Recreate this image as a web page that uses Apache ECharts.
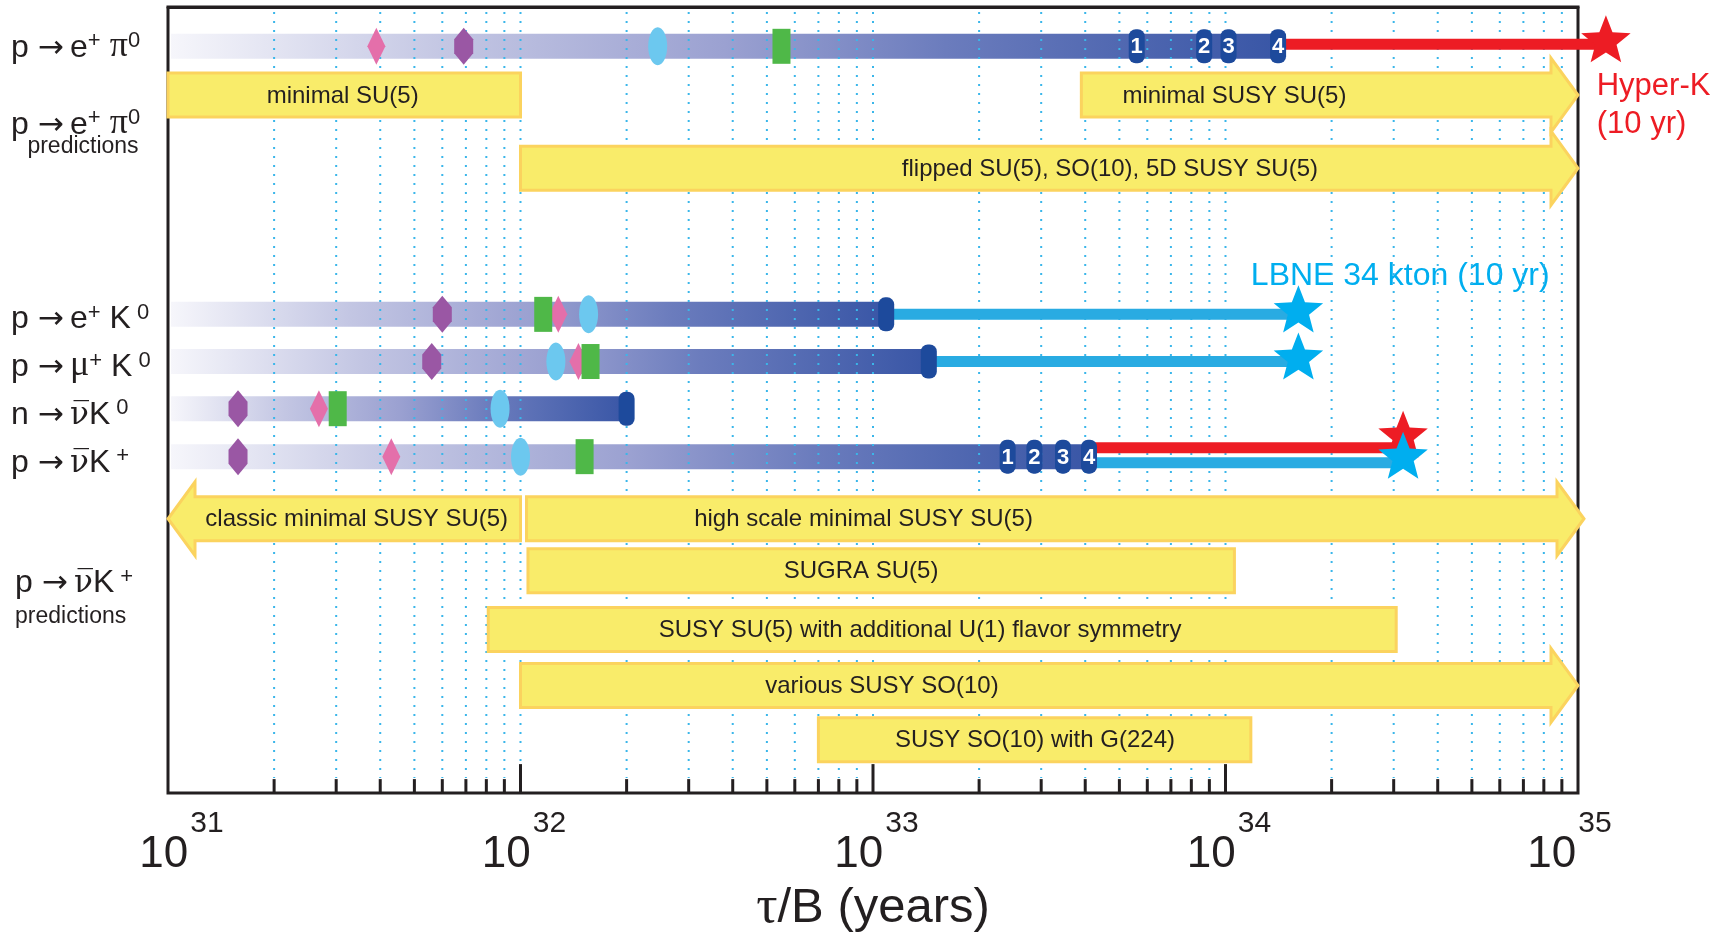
<!DOCTYPE html>
<html>
<head>
<meta charset="utf-8">
<title>Nucleon decay lifetime limits and sensitivities</title>
<script src="https://cdn.jsdelivr.net/npm/echarts@6/dist/echarts.min.js"></script>
<style>
  html, body { margin: 0; padding: 0; background: #ffffff; }
  #chart { width: 1735px; height: 940px; }
</style>
</head>
<body>
<div id="chart"></div>
<script>
// ---------------------------------------------------------------
// Data: lifetimes in years (tau/B), rows on a 0..100 vertical scale
// ---------------------------------------------------------------
const xMin = 1e31;
const xMax = 1e35;

// Decay channels (row positions) and current-limit bars
const channelRow = [5.0, 39.1, 45.1, 51.1, 57.2];   // p->e+pi0, p->e+K0, p->mu+K0, n->nubarK0, p->nubarK+
const barFrom    = [1.02e31, 1.02e31, 1.02e31, 1.02e31, 1.02e31];
const barTo      = [1.41e34, 1.09e33, 1.44e33, 2.0e32, 4.1e33];

// Experiment markers: [channel index, lifetime]
const purpleMarks = [[0, 6.9e31], [1, 6.0e31], [2, 5.6e31], [3, 1.58e31], [4, 1.58e31]];
const pinkMarks   = [[0, 3.9e31], [1, 1.28e32], [2, 1.46e32], [3, 2.68e31], [4, 4.3e31]];
const blueMarks   = [[0, 2.45e32], [1, 1.56e32], [2, 1.26e32], [3, 8.75e31], [4, 1.0e32]];
const greenMarks  = [[0, 5.5e32], [1, 1.16e32], [2, 1.58e32], [3, 3.03e31], [4, 1.52e32]];
const limitCaps   = [[1, 1.09e33], [2, 1.44e33], [3, 2.0e32]];
const numberedMarks = [
  [0, 5.6e33, '1'], [0, 8.7e33, '2'], [0, 1.02e34, '3'], [0, 1.41e34, '4'],
  [4, 2.41e33, '1'], [4, 2.87e33, '2'], [4, 3.46e33, '3'], [4, 4.1e33, '4']
];

// Ten-year sensitivity reach: [channel index, from, to]
const hyperKReach = [[0, 1.41e34, 1.2e35], [4, 4.1e33, 3.19e34]];
const lbneReach   = [[1, 1.09e33, 1.61e34], [2, 1.44e33, 1.61e34], [4, 4.1e33, 3.19e34]];

// Model prediction bands
const bandLabels = [
  'minimal SU(5)',
  'minimal SUSY SU(5)',
  'flipped SU(5), SO(10), 5D SUSY SU(5)',
  'classic minimal SUSY SU(5)',
  'high scale minimal SUSY SU(5)',
  'SUGRA SU(5)',
  'SUSY SU(5) with additional U(1) flavor symmetry',
  'various SUSY SO(10)',
  'SUSY SO(10) with G(224)'
];
const bandRow    = [11.2, 11.2, 20.5, 65.1, 65.1, 71.7, 79.2, 86.3, 93.2];
const bandFrom   = [1e31, 3.9e33, 1e32, 1e32, 1.04e32, 1.05e32, 8.1e31, 1e32, 7.0e32];
const bandTo     = [1e32, 1e35, 1e35, 1e31, 1.04e35, 1.06e34, 3.05e34, 1e35, 1.18e34];
const bandArrow  = ['none', 'right', 'right', 'left', 'right', 'none', 'none', 'right', 'none'];
const bandTextAt = [3.13e31, 1.06e34, 4.7e33, 3.43e31, 9.4e32, 9.25e32, 1.36e33, 1.06e33, 2.88e33];

// Row captions on the left
const rowLabelText = [
  '{m|p }{a|\u2192}{m|\u2009e}{s|+}{g| \u03c0}{s|0}',
  '{m|p }{a|\u2192}{m|\u2009e}{s|+}{g| \u03c0}{s|0}',
  'predictions',
  '{m|p }{a|\u2192}{m|\u2009e}{s|+}{m| K}{s| 0}',
  '{m|p }{a|\u2192}{m|\u2009}{g|\u03bc}{s|+}{m| K}{s| 0}',
  '{m|n }{a|\u2192}{m|\u2009}{n|\u03bd\u0305}{m|K}{s| 0}',
  '{m|p }{a|\u2192}{m|\u2009}{n|\u03bd\u0305}{m|K}{s| +}',
  '{m|p }{a|\u2192}{m|\u2009}{n|\u03bd\u0305}{m|K}{s| +}',
  'predictions'
];
const rowLabelRow = [5.0, 14.8, 17.8, 39.5, 45.6, 51.7, 57.8, 73.1, 77.5];

// Experiment annotations
const noteText  = ['Hyper-K', '(10 yr)', 'LBNE 34 kton (10 yr)'];
const noteAt    = [1.13e35, 1.13e35, 1.18e34];
const noteRow   = [10.1, 15.0, 34.2];

// Dotted grid at 2..10 x each decade, minor ticks at 2..9, long ticks at decades
const gridDecades = [1e31, 1e32, 1e33, 1e34];
const gridSteps   = [2, 3, 4, 5, 6, 7, 8, 9, 10];
const majorTickValues = [1e32, 1e33, 1e34];

// ---------------------------------------------------------------
// Styling
// ---------------------------------------------------------------
const SANS  = "'Liberation Sans', Arial, Helvetica, sans-serif";
const SERIF = "'Liberation Serif', 'Times New Roman', serif";
const INK = '#231f20';
const RED = '#ed1c24';
const CYAN_LINE = '#29abe2';
const CYAN_STAR = '#00aeef';
const DARK_BLUE = '#1d4a9c';
const YELLOW = '#f9ec6a';
const YELLOW_EDGE = '#fbd35e';

const gridLineValues = [];
const minorTickValues = [];
gridDecades.forEach(d => gridSteps.forEach(s => {
  if (d * s < xMax) gridLineValues.push(d * s);
  if (s < 10) minorTickValues.push(d * s);
}));

// horizontal anchor of each left caption (pixels)
const labelX = [11, 11, 83, 11, 11, 11, 11, 15, 15];
const labelAlign = ['left', 'left', 'center', 'left', 'left', 'left', 'left', 'left', 'left'];

const chart = echarts.init(document.getElementById('chart'));

function rowOf(ch) { return channelRow[ch]; }

function starPoints(cx, cy, R) {
  const pts = [];
  for (let k = 0; k < 10; k++) {
    const ang = -Math.PI / 2 + k * Math.PI / 5;
    const r = k % 2 === 0 ? R : R * 0.43;
    pts.push([cx + r * Math.cos(ang), cy + r * Math.sin(ang)]);
  }
  return pts;
}

function bandPoints(x0, x1, y, arrow) {
  const hb = 22, hh = 37, hl = 27;
  if (arrow === 'none') {
    const a = Math.min(x0, x1), b = Math.max(x0, x1);
    return [[a, y - hb], [b, y - hb], [b, y + hb], [a, y + hb]];
  }
  const dir = x1 > x0 ? 1 : -1;
  const base = x1 - dir * hl;
  return [[x0, y - hb], [base, y - hb], [base, y - hh], [x1, y],
          [base, y + hh], [base, y + hb], [x0, y + hb]];
}

function markerSeries(name, data, z, draw) {
  return {
    type: 'custom', name: name, z: z, silent: true,
    data: data, encode: { x: 0, y: 1 },
    renderItem: function (params, api) {
      const p = api.coord([api.value(0), api.value(1)]);
      return draw(p[0], p[1], params.dataIndex);
    }
  };
}

const barGradient = () => new echarts.graphic.LinearGradient(0, 0, 1, 0, [
  { offset: 0, color: '#f6f6fb' },
  { offset: 0.25, color: '#c3c6e3' },
  { offset: 0.5, color: '#9ba1d1' },
  { offset: 0.7, color: '#6b7cbd' },
  { offset: 1, color: '#3956a6' }
]);

const series = [];

// gradient limit bars
series.push({
  type: 'custom', name: 'limits', z: 2, silent: true,
  data: channelRow.map((r, i) => [barFrom[i], barTo[i], r]),
  encode: { x: [0, 1], y: 2 },
  renderItem: function (params, api) {
    const a = api.coord([api.value(0), api.value(2)]);
    const b = api.coord([api.value(1), api.value(2)]);
    return {
      type: 'rect',
      shape: { x: a[0], y: a[1] - 12.5, width: b[0] - a[0], height: 25 },
      style: { fill: barGradient() }
    };
  }
});

// annotation text (LBNE sits under the dotted grid)
series.push({
  type: 'custom', name: 'notes', z: 2, silent: true,
  data: noteAt.map((v, i) => [v, noteRow[i]]),
  encode: { x: 0, y: 1 },
  renderItem: function (params, api) {
    const i = params.dataIndex;
    const p = api.coord([api.value(0), api.value(1)]);
    return {
      type: 'text',
      style: {
        text: noteText[i], x: p[0], y: p[1], align: 'left', verticalAlign: 'middle',
        fill: i < 2 ? RED : CYAN_STAR, font: (i < 2 ? '31px ' : '32px ') + SANS
      }
    };
  }
});

// dotted grid lines
series.push({
  type: 'custom', name: 'grid', z: 3, silent: true,
  data: gridLineValues.map(v => [v, 0]),
  encode: { x: 0, y: 1 },
  renderItem: function (params, api) {
    const x = api.coord([api.value(0), 0])[0];
    const cs = params.coordSys;
    return {
      type: 'line',
      shape: { x1: x, y1: cs.y + 5, x2: x, y2: cs.y + cs.height - 15 },
      style: { stroke: '#3ab6ea', lineWidth: 2, lineDash: [2, 7] }
    };
  }
});

// axis ticks on the lifetime axis (short at 2..9, long at decades)
function tickSeries(name, values, len) {
  return {
    type: 'custom', name: name, z: 3, silent: true,
    data: values.map(v => [v, 0]),
    encode: { x: 0, y: 1 },
    renderItem: function (params, api) {
      const x = api.coord([api.value(0), 0])[0];
      const cs = params.coordSys;
      const yb = cs.y + cs.height;
      return {
        type: 'line',
        shape: { x1: x, y1: yb, x2: x, y2: yb - len },
        style: { stroke: INK, lineWidth: 3 }
      };
    }
  };
}
series.push(tickSeries('minorTicks', minorTickValues, 14));
series.push(tickSeries('majorTicks', majorTickValues, 29));

// prediction bands
series.push({
  type: 'custom', name: 'predictions', z: 4, silent: true,
  data: bandRow.map((r, i) => [bandFrom[i], bandTo[i], r, bandTextAt[i]]),
  encode: { x: [0, 1], y: 2 },
  renderItem: function (params, api) {
    const i = params.dataIndex;
    const a = api.coord([api.value(0), api.value(2)]);
    const b = api.coord([api.value(1), api.value(2)]);
    const t = api.coord([api.value(3), api.value(2)]);
    return {
      type: 'group',
      children: [
        {
          type: 'polygon',
          shape: { points: bandPoints(a[0], b[0], a[1], bandArrow[i]) },
          style: { fill: YELLOW, stroke: YELLOW_EDGE, lineWidth: 3, lineJoin: 'miter' }
        },
        {
          type: 'text',
          style: {
            text: bandLabels[i], x: t[0], y: a[1] + 1, align: 'center', verticalAlign: 'middle',
            fill: INK, font: '24px ' + SANS
          }
        }
      ]
    };
  }
});

// sensitivity reach lines
function reachSeries(name, list, color, offsetFor) {
  return {
    type: 'custom', name: name, z: 5, silent: true,
    data: list.map(d => [d[1], d[2], rowOf(d[0]), d[0]]),
    encode: { x: [0, 1], y: 2 },
    renderItem: function (params, api) {
      const a = api.coord([api.value(0), api.value(2)]);
      const b = api.coord([api.value(1), api.value(2)]);
      const dy = offsetFor(api.value(3));
      return {
        type: 'rect',
        shape: { x: a[0], y: a[1] + dy - 5.5, width: b[0] - a[0] - 6, height: 11 },
        style: { fill: color }
      };
    }
  };
}
series.push(reachSeries('Hyper-K line', hyperKReach, RED, ch => ch === 4 ? -9 : -2));
series.push(reachSeries('LBNE line', lbneReach, CYAN_LINE, ch => ch === 4 ? 6 : 0));

// experiment markers
series.push(markerSeries('purple', purpleMarks.map(d => [d[1], rowOf(d[0])]), 6, (x, y) => ({
  type: 'polygon',
  shape: { points: [[x, y - 18.5], [x + 9.5, y - 7], [x + 9.5, y + 7], [x, y + 18.5], [x - 9.5, y + 7], [x - 9.5, y - 7]] },
  style: { fill: '#9a57a4' }
})));
series.push(markerSeries('pink', pinkMarks.map(d => [d[1], rowOf(d[0])]), 6, (x, y) => ({
  type: 'polygon',
  shape: { points: [[x, y - 18.5], [x + 9, y], [x, y + 18.5], [x - 9, y]] },
  style: { fill: '#e46faa' }
})));
series.push(markerSeries('lightblue', blueMarks.map(d => [d[1], rowOf(d[0])]), 6, (x, y) => ({
  type: 'ellipse',
  shape: { cx: x, cy: y, rx: 9.5, ry: 19 },
  style: { fill: '#6cc8ef' }
})));
series.push(markerSeries('green', greenMarks.map(d => [d[1], rowOf(d[0])]), 6, (x, y) => ({
  type: 'rect',
  shape: { x: x - 9, y: y - 17.5, width: 18, height: 35 },
  style: { fill: '#4fb848' }
})));
series.push(markerSeries('caps', limitCaps.map(d => [d[1], rowOf(d[0])]), 6, (x, y) => ({
  type: 'rect',
  shape: { x: x - 8, y: y - 17, width: 16, height: 34, r: 7 },
  style: { fill: DARK_BLUE }
})));
series.push(markerSeries('numbered', numberedMarks.map(d => [d[1], rowOf(d[0])]), 6, (x, y, i) => ({
  type: 'group',
  children: [
    { type: 'rect', shape: { x: x - 8, y: y - 17, width: 16, height: 34, r: 7 }, style: { fill: DARK_BLUE } },
    {
      type: 'text',
      style: {
        text: numberedMarks[i][2], x: x, y: y + 1, align: 'center', verticalAlign: 'middle',
        fill: '#ffffff', font: "bold 22px 'Liberation Sans Narrow', " + SANS
      }
    }
  ]
})));

// sensitivity stars
series.push(markerSeries('Hyper-K star', hyperKReach.map(d => [d[2], rowOf(d[0]), d[0]]), 7, (x, y, i) => ({
  type: 'polygon',
  shape: { points: starPoints(x, y + (hyperKReach[i][0] === 4 ? -20 : -5), 26) },
  style: { fill: RED }
})));
series.push(markerSeries('LBNE star', lbneReach.map(d => [d[2], rowOf(d[0]), d[0]]), 8, (x, y, i) => ({
  type: 'polygon',
  shape: { points: starPoints(x, y + (lbneReach[i][0] === 4 ? 1 : -3), 26) },
  style: { fill: CYAN_STAR }
})));

// left captions
const labelRich = {
  m: { fontFamily: SANS, fontSize: 32, lineHeight: 36, color: INK, verticalAlign: 'bottom' },
  a: { fontFamily: "'DejaVu Sans', sans-serif", fontSize: 31, lineHeight: 34, color: INK, verticalAlign: 'bottom' },
  g: { fontFamily: SERIF, fontSize: 36, lineHeight: 36, color: INK, verticalAlign: 'bottom' },
  n: { fontFamily: "'DejaVu Serif', serif", fontSize: 31, lineHeight: 36, color: INK, verticalAlign: 'bottom' },
  s: { fontFamily: SANS, fontSize: 22, lineHeight: 22, padding: [0, 0, 12, 0], color: INK, verticalAlign: 'bottom' }
};
series.push({
  type: 'custom', name: 'captions', z: 6, silent: true,
  data: rowLabelRow.map(r => [xMin, r]),
  encode: { x: 0, y: 1 },
  renderItem: function (params, api) {
    const i = params.dataIndex;
    const p = api.coord([api.value(0), api.value(1)]);
    const plain = rowLabelText[i] === 'predictions';
    return {
      type: 'text',
      style: plain ? {
        text: rowLabelText[i], x: labelX[i], y: p[1], align: labelAlign[i], verticalAlign: 'middle',
        fill: INK, font: '23px ' + SANS
      } : {
        text: rowLabelText[i], x: labelX[i], y: p[1], align: labelAlign[i], verticalAlign: 'middle',
        rich: labelRich, fill: INK, font: '32px ' + SANS
      }
    };
  }
});

const tenStyle = { fontFamily: SANS, fontSize: 44, lineHeight: 44, color: INK, verticalAlign: 'bottom' };
const expStyle = { fontFamily: SANS, fontSize: 30, lineHeight: 30, color: INK, verticalAlign: 'bottom' };

const option = {
  animation: false,
  backgroundColor: '#ffffff',
  grid: {
    left: 168, right: 157, top: 7, bottom: 139,
    show: true, borderColor: INK, borderWidth: 3, backgroundColor: 'transparent'
  },
  xAxis: {
    type: 'log', logBase: 10, min: xMin, max: xMax,
    axisLine: { show: true, lineStyle: { color: INK, width: 3 } },
    axisTick: { show: false },
    splitLine: { show: false },
    minorTick: { show: false },
    axisLabel: {
      margin: 40,
      showMinLabel: true, showMaxLabel: true,
      formatter: function (v) {
        const e = Math.round(Math.log10(v));
        const base = e === 31 ? 'bFirst' : 'b';
        const sup = e === 35 ? 'eLast' : 'e';
        return '{' + base + '|10}{' + sup + '|' + e + '}';
      },
      rich: {
        b: Object.assign({}, tenStyle, { padding: [0, 0, 0, 7] }),
        bFirst: Object.assign({}, tenStyle, { padding: [0, 0, 0, 27] }),
        e: Object.assign({}, expStyle, { padding: [0, 0, 38, 2] }),
        eLast: Object.assign({}, expStyle, { padding: [0, 24, 38, 2] })
      }
    },
    name: '{t|\u03c4}/B (years)',
    nameLocation: 'middle',
    nameGap: 87,
    nameTextStyle: {
      fontFamily: SANS, fontSize: 49, lineHeight: 52, color: INK,
      rich: {
        t: { fontFamily: SERIF, fontSize: 53, lineHeight: 52, color: INK },
        '': {}
      }
    }
  },
  yAxis: { type: 'value', min: 0, max: 100, inverse: true, show: false },
  series: series
};

chart.setOption(option);
</script>
</body>
</html>
